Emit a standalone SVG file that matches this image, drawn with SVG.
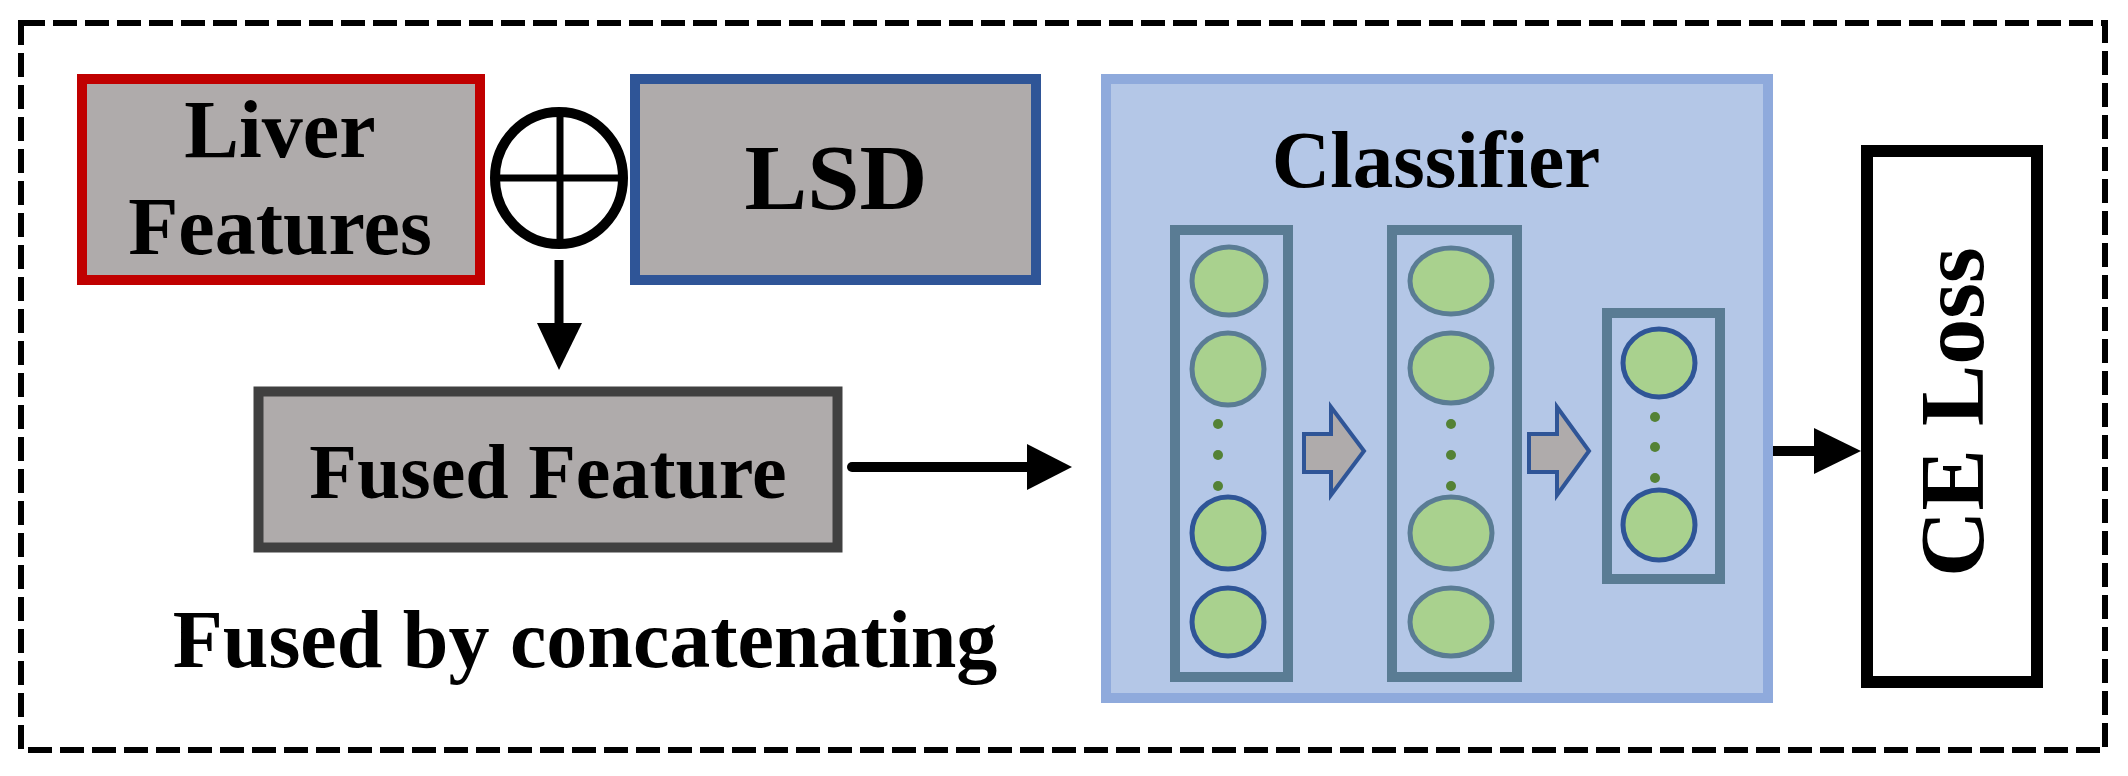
<svg xmlns="http://www.w3.org/2000/svg" width="2128" height="776" viewBox="0 0 2128 776">
<style>
  .t{font-family:"Liberation Serif","Times New Roman",serif;font-weight:bold;fill:#000;text-anchor:middle}
  .box{fill:#AFABAB;stroke-width:10}
  .col{fill:none;stroke:#5A7C94;stroke-width:10}
  .nA{fill:#A9D18E;stroke:#5A7C94;stroke-width:5}
  .nB{fill:#A9D18E;stroke:#2F5597;stroke-width:5}
  .dot{fill:#548235}
  .blk{fill:#AFABAB;stroke:#2F5597;stroke-width:4;stroke-linejoin:miter}
</style>
<rect width="2128" height="776" fill="#fff"/>
<rect id="frame" x="21" y="23" width="2084" height="727" fill="none" stroke="#000" stroke-width="6" stroke-dasharray="24 8"/>

<g id="liver">
  <rect class="box" x="82" y="79" width="398" height="201" stroke="#C00000"/>
  <text class="t" x="280" y="157" font-size="82">Liver</text>
  <text class="t" x="280" y="254" font-size="82">Features</text>
</g>

<g id="concat">
  <ellipse cx="559" cy="178" rx="64" ry="66" fill="none" stroke="#000" stroke-width="10"/>
  <line x1="560" y1="112" x2="560" y2="244" stroke="#000" stroke-width="7"/>
  <line x1="495" y1="178" x2="623" y2="178" stroke="#000" stroke-width="7"/>
</g>

<g id="lsd">
  <rect class="box" x="635" y="79" width="401" height="201" stroke="#2F5597"/>
  <text class="t" x="836" y="209" font-size="94">LSD</text>
</g>

<g id="fused">
  <rect class="box" x="258.5" y="391.5" width="579" height="156" stroke="#404040" stroke-width="11"/>
  <text class="t" x="548" y="498" font-size="78">Fused Feature</text>
</g>

<g id="caption">
  <text class="t" x="585" y="667" font-size="82">Fused by concatenating</text>
</g>

<g id="classifier">
  <rect x="1106" y="79" width="662" height="619" fill="#B4C7E7" stroke="#8FAADC" stroke-width="10"/>
  <text class="t" x="1436" y="187" font-size="81">Classifier</text>
  <g id="layer1">
    <rect class="col" x="1175" y="230" width="113" height="447"/>
    <ellipse class="nA" cx="1229" cy="281" rx="37" ry="34"/>
    <ellipse class="nA" cx="1228" cy="369" rx="36" ry="36"/>
    <circle class="dot" cx="1218" cy="424" r="5"/>
    <circle class="dot" cx="1218" cy="455" r="5"/>
    <circle class="dot" cx="1218" cy="486" r="5"/>
    <ellipse class="nB" cx="1228" cy="533" rx="36" ry="36"/>
    <ellipse class="nB" cx="1228" cy="622" rx="36" ry="34"/>
  </g>
  <g id="layer2">
    <rect class="col" x="1392" y="230" width="125" height="447"/>
    <ellipse class="nA" cx="1451" cy="281" rx="41" ry="33"/>
    <ellipse class="nA" cx="1451" cy="368" rx="41" ry="35"/>
    <circle class="dot" cx="1451" cy="424" r="5"/>
    <circle class="dot" cx="1451" cy="455" r="5"/>
    <circle class="dot" cx="1451" cy="486" r="5"/>
    <ellipse class="nA" cx="1451" cy="533" rx="41" ry="36"/>
    <ellipse class="nA" cx="1451" cy="622" rx="41" ry="34"/>
  </g>
  <g id="layer3">
    <rect class="col" x="1607" y="313" width="113" height="266"/>
    <ellipse class="nB" cx="1659" cy="363" rx="36" ry="34"/>
    <circle class="dot" cx="1655" cy="417" r="5"/>
    <circle class="dot" cx="1655" cy="447" r="5"/>
    <circle class="dot" cx="1655" cy="478" r="5"/>
    <ellipse class="nB" cx="1659" cy="525" rx="36" ry="35"/>
  </g>
  <path class="blk" d="M1304 434 H1331 V407 L1364 451 L1331 495 V472 H1304 Z"/>
  <path class="blk" d="M1529 434 H1557 V407 L1589 451 L1557 495 V472 H1529 Z"/>
</g>

<g id="celoss">
  <rect x="1867" y="151" width="170" height="531" fill="#fff" stroke="#000" stroke-width="12"/>
  <text class="t" font-size="92" transform="translate(1983 412) rotate(-90)">CE Loss</text>
</g>

<g id="connectors" fill="#000" stroke="#000">
  <line x1="559" y1="260" x2="559" y2="326" stroke-width="9"/>
  <path d="M537 323 L582 323 L559 370 Z" stroke="none"/>
  <line x1="852" y1="467" x2="1030" y2="467" stroke-width="10" stroke-linecap="round"/>
  <path d="M1027 444 L1072 467 L1027 490 Z" stroke="none"/>
  <line x1="1773" y1="451" x2="1817" y2="451" stroke-width="10"/>
  <path d="M1814 428 L1861 451 L1814 474 Z" stroke="none"/>
</g>
</svg>
